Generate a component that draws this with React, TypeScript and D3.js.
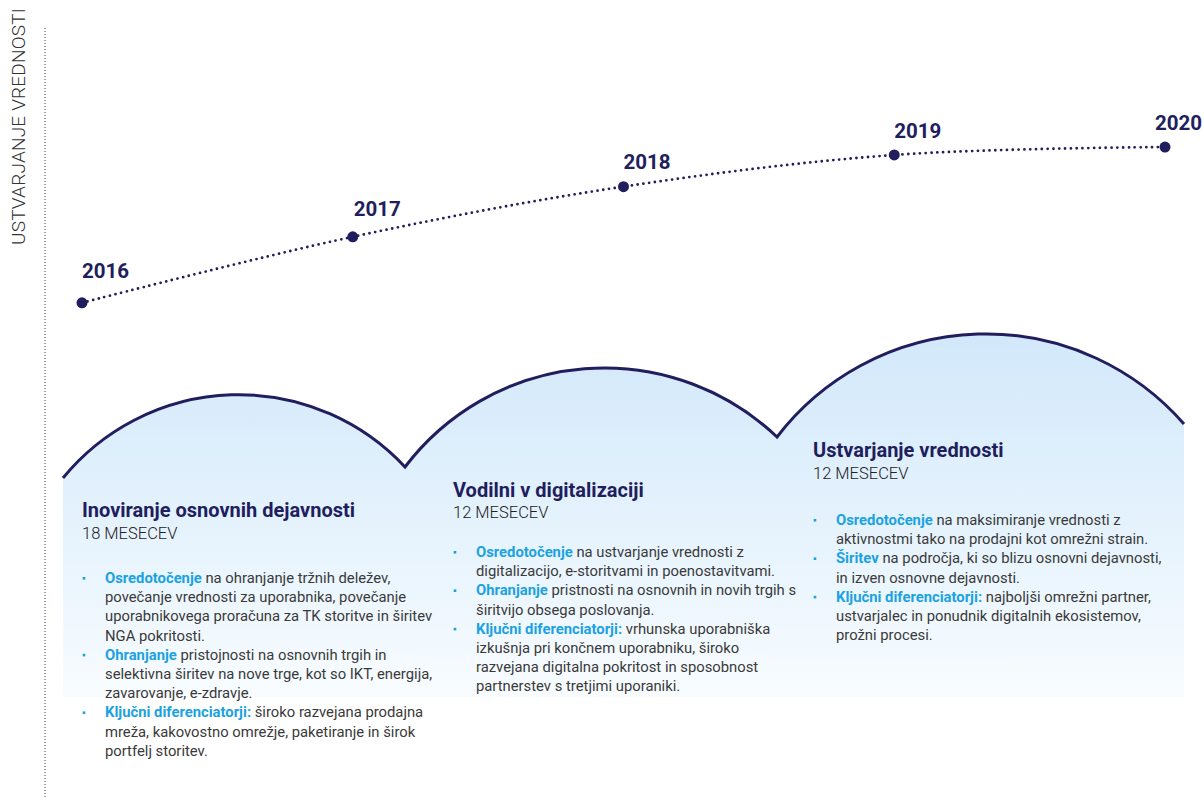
import React from "react";
import * as d3 from "d3";

// ---- data ----
const years = [2016, 2017, 2018, 2019, 2020];
const valueIndex = [30, 55, 74, 86, 89];
const yAxisTitle = "USTVARJANJE VREDNOSTI";

const phaseTitles = ["Inoviranje osnovnih dejavnosti", "Vodilni v digitalizaciji", "Ustvarjanje vrednosti"];
const phaseDurations = ["18 MESECEV", "12 MESECEV", "12 MESECEV"];

type Bullet = { bold: string; lines: string[] };
const phase1Bullets: Bullet[] = [
  { bold: "Osredotočenje", lines: [" na ohranjanje tržnih deležev,", "povečanje vrednosti za uporabnika, povečanje", "uporabnikovega proračuna za TK storitve in širitev", "NGA pokritosti."] },
  { bold: "Ohranjanje", lines: [" pristojnosti na osnovnih trgih in", "selektivna širitev na nove trge, kot so IKT, energija,", "zavarovanje, e-zdravje."] },
  { bold: "Ključni diferenciatorji:", lines: [" široko razvejana prodajna", "mreža, kakovostno omrežje, paketiranje in širok", "portfelj storitev."] },
];
const phase2Bullets: Bullet[] = [
  { bold: "Osredotočenje", lines: [" na ustvarjanje vrednosti z", "digitalizacijo, e-storitvami in poenostavitvami."] },
  { bold: "Ohranjanje", lines: [" pristnosti na osnovnih in novih trgih s", "širitvijo obsega poslovanja."] },
  { bold: "Ključni diferenciatorji:", lines: [" vrhunska uporabniška", "izkušnja pri končnem uporabniku, široko", "razvejana digitalna pokritost in sposobnost", "partnerstev s tretjimi uporaniki."] },
];
const phase3Bullets: Bullet[] = [
  { bold: "Osredotočenje", lines: [" na maksimiranje vrednosti z", "aktivnostmi tako na prodajni kot omrežni strain."] },
  { bold: "Širitev", lines: [" na področja, ki so blizu osnovni dejavnosti,", "in izven osnovne dejavnosti."] },
  { bold: "Ključni diferenciatorji:", lines: [" najboljši omrežni partner,", "ustvarjalec in ponudnik digitalnih ekosistemov,", "prožni procesi."] },
];
const phaseBullets = [phase1Bullets, phase2Bullets, phase3Bullets];

// ---- layout (not data) ----
const W = 1204;
const H = 798;
const NAVY = "#211e5d";
const BLUE = "#1ba2e2";
const TEXT = "#3a3a3a";
const labelDy = [-25, -21, -18, -17, -17];
const labelDx = [0, 1, 0, 0, -10];
const cloudPts: [number, number][][] = [
  [[63, 478], [227, 395], [405, 467]],
  [[405, 467], [607, 368], [777, 437]],
  [[777, 437], [980, 334], [1184, 424]],
];
const cloudBottom = 697;
const textBlocks = [
  { x: 82, titleY: 517, subY: 539, bulletX: 84, textX: 105, firstY: 583 },
  { x: 453, titleY: 497, subY: 518, bulletX: 455, textX: 476, firstY: 557 },
  { x: 813, titleY: 457, subY: 479, bulletX: 815, textX: 836, firstY: 525 },
];
const lineH = 19.2;

function circleRadius(p: [number, number][]) {
  const [[ax, ay], [bx, by], [cx, cy]] = p;
  const d = 2 * (ax * (by - cy) + bx * (cy - ay) + cx * (ay - by));
  const ux = ((ax * ax + ay * ay) * (by - cy) + (bx * bx + by * by) * (cy - ay) + (cx * cx + cy * cy) * (ay - by)) / d;
  const uy = ((ax * ax + ay * ay) * (cx - bx) + (bx * bx + by * by) * (ax - cx) + (cx * cx + cy * cy) * (bx - ax)) / d;
  return Math.hypot(ax - ux, ay - uy);
}

export default function App() {
  const x = d3.scaleLinear().domain([2016, 2020]).range([82, 1165]);
  const y = d3.scaleLinear().domain([0, 100]).range([382, 118]);
  const pts: [number, number][] = years.map((yr, i) => [x(yr), y(valueIndex[i])]);
  const line = d3.line().curve(d3.curveCatmullRom.alpha(0.5))(pts) || "";

  let arcPath = `M${cloudPts[0][0][0]},${cloudPts[0][0][1]}`;
  cloudPts.forEach((p) => {
    const r = circleRadius(p);
    arcPath += ` A${r},${r} 0 0 1 ${p[2][0]},${p[2][1]}`;
  });
  const last = cloudPts[cloudPts.length - 1][2];
  const fillPath = `M${cloudPts[0][0][0]},${cloudBottom} L${cloudPts[0][0][0]},${cloudPts[0][0][1]}` + arcPath.replace(/^M[^A]*/, " ") + ` L${last[0]},${cloudBottom} Z`;

  const font = "Roboto, 'Noto Sans', sans-serif";

  return (
    <svg width={W} height={H} style={{ position: "absolute", left: 0, top: 0 }} fontFamily={font}>
      <defs>
        <linearGradient id="cloudGrad" gradientUnits="userSpaceOnUse" x1="0" y1="334" x2="0" y2={cloudBottom}>
          <stop offset="0" stopColor="#d2e8fa" />
          <stop offset="0.55" stopColor="#e6f3fd" />
          <stop offset="1" stopColor="#f8fcff" />
        </linearGradient>
      </defs>
      <rect width={W} height={H} fill="#ffffff" />

      {/* y axis */}
      <text transform="translate(25,245) rotate(-90)" fontSize={19} fontWeight={300} fill="#333" letterSpacing={0.2}>
        {yAxisTitle}
      </text>
      <line x1={45} x2={45} y1={28} y2={H} stroke="#444" strokeWidth={1} strokeDasharray="1 2" />

      {/* clouds */}
      <path d={fillPath} fill="url(#cloudGrad)" />
      <path d={arcPath} fill="none" stroke={NAVY} strokeWidth={3} strokeLinejoin="miter" />

      {/* timeline */}
      <path d={line} fill="none" stroke={NAVY} strokeWidth={2.8} strokeLinecap="round" strokeDasharray="0 5.8" />
      {pts.map((p, i) => (
        <g key={years[i]}>
          <circle cx={p[0]} cy={p[1]} r={5.5} fill={NAVY} />
          <text x={p[0] + labelDx[i]} y={p[1] + labelDy[i]} fontSize={20.5} fontWeight={700} fill={NAVY}>
            {years[i]}
          </text>
        </g>
      ))}

      {/* text blocks */}
      {textBlocks.map((b, k) => {
        let li = 0;
        return (
          <g key={k}>
            <text x={b.x} y={b.titleY} fontSize={20} fontWeight={700} fill={NAVY}>
              {phaseTitles[k]}
            </text>
            <text x={b.x} y={b.subY} fontSize={16.5} fontWeight={300} fill="#222">
              {phaseDurations[k]}
            </text>
            {phaseBullets[k].map((bl, j) => {
              const startLine = li;
              li += bl.lines.length;
              return (
                <g key={j}>
                  <rect x={b.bulletX - 1.3} y={b.firstY + startLine * lineH - 6} width={2.6} height={2.6} fill={BLUE} />
                  {bl.lines.map((ln, m) => (
                    <text key={m} x={b.textX} y={b.firstY + (startLine + m) * lineH} fontSize={14.8} fill={TEXT}>
                      {m === 0 && (
                        <tspan fontWeight={700} fill={BLUE}>
                          {bl.bold}
                        </tspan>
                      )}
                      <tspan xmlSpace="preserve">{m === 0 ? "\u00a0" + ln.trimStart() : ln}</tspan>
                    </text>
                  ))}
                </g>
              );
            })}
          </g>
        );
      })}
    </svg>
  );
}
